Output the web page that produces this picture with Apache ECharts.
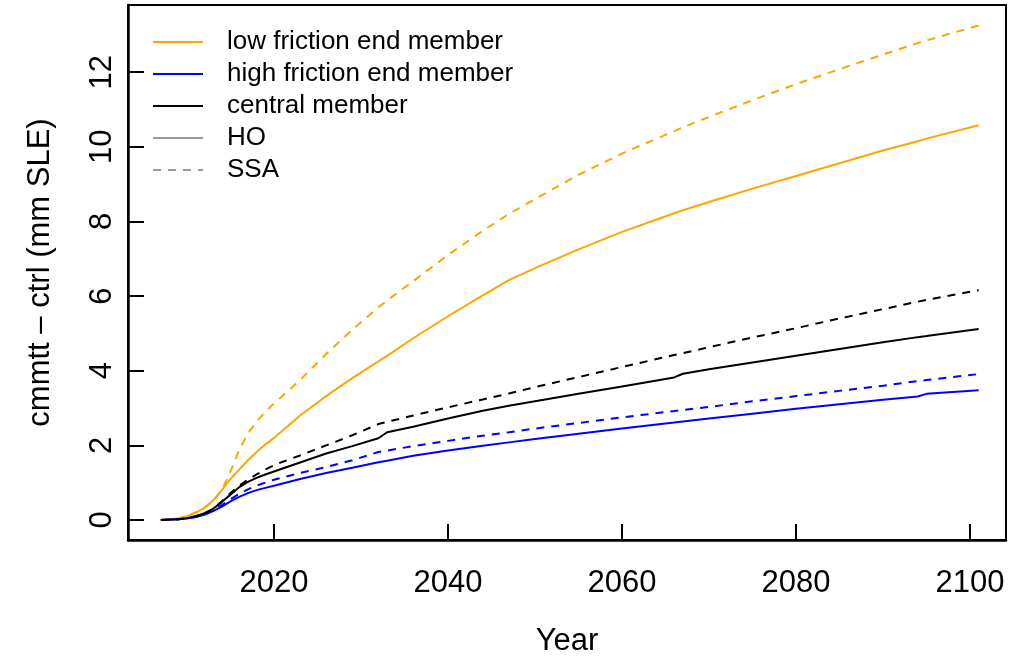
<!DOCTYPE html>
<html>
<head>
<meta charset="utf-8">
<script src="https://cdn.jsdelivr.net/npm/echarts@6/dist/echarts.min.js"></script>
<style>html,body{margin:0;padding:0;background:#fff;}#c{width:1011px;height:660px;}</style>
</head>
<body>
<div id="c"></div>
<script>
const years = [2007,2009,2010,2011,2012,2013,2014,2015,2016,2017,2018,2019,2020,2021,2023,2026,2029,2032,2033,2036,2040,2044,2047,2050,2055,2060,2066,2067,2070,2075,2080,2085,2090,2094,2095,2101];
const lowHO  = [0,0.04,0.1,0.2,0.32,0.52,0.8,1.1,1.35,1.6,1.82,2.02,2.2,2.4,2.8,3.32,3.8,4.25,4.4,4.87,5.46,6.02,6.43,6.75,7.25,7.72,8.22,8.3,8.52,8.88,9.22,9.56,9.9,10.15,10.22,10.58];
const lowSSA = [0,0.04,0.1,0.2,0.33,0.5,0.8,1.3,1.88,2.32,2.63,2.9,3.12,3.33,3.75,4.45,5.1,5.7,5.88,6.4,7.1,7.75,8.2,8.6,9.25,9.82,10.42,10.52,10.8,11.25,11.68,12.08,12.47,12.78,12.85,13.25];
const highHO = [0,0.02,0.04,0.08,0.14,0.24,0.36,0.5,0.62,0.72,0.8,0.86,0.92,0.98,1.1,1.26,1.4,1.55,1.59,1.72,1.86,1.99,2.08,2.17,2.31,2.45,2.61,2.64,2.72,2.85,2.98,3.1,3.22,3.31,3.38,3.48];
const highSSA= [0,0.02,0.04,0.08,0.15,0.26,0.4,0.56,0.7,0.82,0.92,1.0,1.08,1.14,1.26,1.42,1.6,1.82,1.86,1.98,2.12,2.26,2.35,2.45,2.6,2.75,2.92,2.95,3.03,3.18,3.32,3.46,3.6,3.72,3.75,3.91];
const centHO = [0,0.02,0.05,0.1,0.18,0.3,0.48,0.68,0.88,1.02,1.13,1.22,1.3,1.38,1.54,1.78,1.98,2.19,2.35,2.5,2.72,2.93,3.06,3.18,3.38,3.58,3.82,3.92,4.04,4.22,4.4,4.58,4.76,4.9,4.93,5.12];
const centSSA= [0,0.02,0.05,0.1,0.18,0.3,0.5,0.72,0.92,1.08,1.22,1.35,1.47,1.56,1.73,2.0,2.27,2.57,2.63,2.8,3.02,3.23,3.39,3.56,3.83,4.1,4.42,4.47,4.63,4.89,5.14,5.4,5.65,5.85,5.9,6.16];
const xTicks = [2020,2040,2060,2080,2100];
const yTicks = [0,2,4,6,8,10,12];
const names = ['low friction end member','high friction end member','central member','HO','SSA'];

const pairs = v => years.map((y,i)=>[y,v[i]]);
const FONT = 'Liberation Sans, Arial, Helvetica, sans-serif';
const dash = [8,7];
function line(name, vals, color, dashed){
  return {type:'line', name:name, data:pairs(vals), showSymbol:false, symbol:'none',
    lineStyle:{color:color, width:2, type: dashed? dash : 'solid'}, itemStyle:{color:color}, silent:true, z:3};
}
const chart = echarts.init(document.getElementById('c'), null, {renderer:'canvas'});
chart.setOption({
  animation:false,
  backgroundColor:'#fff',
  grid:{left:128, right:5, top:5, bottom:120, outerBoundsMode:'none', containLabel:false,
    show:true, borderColor:'#000', borderWidth:2, backgroundColor:'transparent'},
  legend:{
    orient:'vertical', left:147, top:24, itemWidth:50, itemHeight:26, itemGap:6,
    data:names, selectedMode:false,
    itemStyle:{opacity:0},
    textStyle:{fontFamily:FONT, fontSize:26, color:'#000', lineHeight:26, padding:[0,0,0,19]}
  },
  xAxis:{type:'value', min:2003.22, max:2104.14,
    name:'Year', nameLocation:'middle', nameGap:86,
    nameTextStyle:{fontFamily:FONT, fontSize:31, color:'#000'},
    axisLine:{show:true, onZero:false, lineStyle:{color:'#000', width:2.5}},
    axisTick:{show:true, inside:true, length:16, customValues:xTicks, lineStyle:{color:'#000', width:2}},
    axisLabel:{customValues:xTicks, margin:28, fontFamily:FONT, fontSize:31, color:'#000', formatter:v=>String(v)},
    splitLine:{show:false}},
  yAxis:{type:'value', min:-0.536, max:13.80,
    name:'cmmtt \u2013 ctrl (mm SLE)', nameLocation:'middle', nameGap:72, nameRotate:90,
    nameTextStyle:{fontFamily:FONT, fontSize:31, color:'#000'},
    axisLine:{show:true, onZero:false, lineStyle:{color:'#000', width:2.5}},
    axisTick:{show:true, inside:true, length:16, customValues:yTicks, lineStyle:{color:'#000', width:2}},
    axisLabel:{customValues:yTicks, rotate:90, margin:10, fontFamily:FONT, fontSize:31, color:'#000', formatter:v=>String(v)},
    splitLine:{show:false}},
  series:[
    line(names[0], lowHO, '#FFA500', false),
    line(names[0], lowSSA, '#FFA500', true),
    line(names[1], highHO, '#0000FF', false),
    line(names[1], highSSA, '#0000FF', true),
    line(names[2], centHO, '#000000', false),
    line(names[2], centSSA, '#000000', true),
    {type:'line', name:names[3], data:[], symbol:'none', lineStyle:{color:'#9a9a9a', width:2, type:'solid'}, itemStyle:{color:'#9a9a9a'}},
    {type:'line', name:names[4], data:[], symbol:'none', lineStyle:{color:'#9a9a9a', width:2, type:dash}, itemStyle:{color:'#9a9a9a'}}
  ]
});
</script>
</body>
</html>
